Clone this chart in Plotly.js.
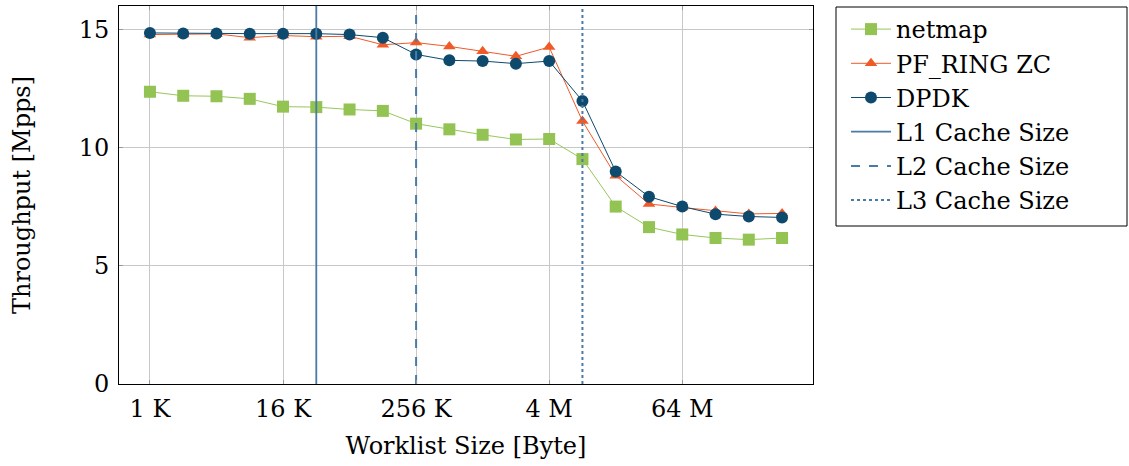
<!DOCTYPE html>
<html>
<head>
<meta charset="utf-8">
<script src="https://cdn.plot.ly/plotly-3.0.1.min.js"></script>
<style>html,body{margin:0;padding:0;background:#fff;}#chart{width:1129px;height:466px;}</style>
</head>
<body>
<div id="chart"></div>
<script>
// Worklist sizes in bytes (1 K ... 512 M)
const sizes = [1024, 2048, 4096, 8192, 16384, 32768, 65536, 131072, 262144, 524288,
  1048576, 2097152, 4194304, 8388608, 16777216, 33554432, 67108864, 134217728, 268435456, 536870912];
const netmap = [12.37, 12.20, 12.18, 12.07, 11.74, 11.72, 11.62, 11.56, 11.02, 10.78,
  10.55, 10.35, 10.37, 9.52, 7.51, 6.64, 6.33, 6.18, 6.11, 6.18];
const pfring = [14.79, 14.79, 14.82, 14.66, 14.75, 14.70, 14.72, 14.36, 14.45, 14.29,
  14.08, 13.87, 14.26, 11.13, 8.82, 7.62, 7.47, 7.32, 7.20, 7.22];
const dpdk = [14.86, 14.84, 14.84, 14.83, 14.83, 14.83, 14.79, 14.66, 13.95, 13.70,
  13.67, 13.56, 13.67, 11.98, 8.99, 7.93, 7.51, 7.19, 7.09, 7.05];
const cacheNames = ["L1 Cache Size", "L2 Cache Size", "L3 Cache Size"];
const cacheSizes = [32768, 262144, 8388608];
const tickVals = [1024, 16384, 262144, 4194304, 67108864];
const tickText = ["1 K", "16 K", "256 K", "4 M", "64 M"];
const yTicks = [0, 5, 10, 15];
const yMax = 16;

const font = "DejaVu Serif";
const fs = 24;
const cacheColor = "#4a7ba6";
const dashes = ["solid", "dash", "dot"];

const traces = [
  {x: sizes, y: netmap, name: "netmap", mode: "lines+markers", type: "scatter",
   line: {color: "#97c75a", width: 1}, marker: {symbol: "square", size: 12, color: "#92c353"}},
  {x: sizes, y: pfring, name: "PF_RING ZC", mode: "lines+markers", type: "scatter",
   line: {color: "#f05a28", width: 1}, marker: {symbol: "triangle-up", size: 11, color: "#f05a28"}},
  {x: sizes, y: dpdk, name: "DPDK", mode: "lines+markers", type: "scatter",
   line: {color: "#0d4a6e", width: 1}, marker: {symbol: "circle", size: 12, color: "#0d4a6e"}}
];
cacheNames.forEach((n, i) => {
  traces.push({x: [cacheSizes[i], cacheSizes[i]], y: [0, yMax], name: n, mode: "lines", type: "scatter",
    line: {color: cacheColor, width: i === 0 ? 1.8 : 2, dash: dashes[i]}, hoverinfo: "skip"});
});

// plot area geometry (px) used to place the legend frame in paper coords
const W = 1129, H = 466, mL = 119, mR = 316, mT = 6, mB = 82;
const pw = W - mL - mR, ph = H - mT - mB;
const px2x = p => (p - mL) / pw;
const px2y = p => (H - mB - p) / ph;

const step = Math.log10(2);
const layout = {
  width: W, height: H,
  margin: {l: mL, r: mR, t: mT, b: mB},
  paper_bgcolor: "#fff", plot_bgcolor: "#fff",
  font: {family: font, size: fs, color: "#000"},
  showlegend: true,
  legend: {x: px2x(846), y: px2y(7), xanchor: "left", yanchor: "top",
    bgcolor: "rgba(0,0,0,0)", borderwidth: 0, font: {family: font, size: fs, color: "#000"},
    tracegroupgap: 0, itemwidth: 40},
  shapes: [{type: "rect", xref: "paper", yref: "paper",
    x0: px2x(836), x1: px2x(1127), y0: px2y(226), y1: px2y(7),
    line: {color: "#000", width: 1}, fillcolor: "rgba(0,0,0,0)"}],
  xaxis: {
    type: "log",
    range: [Math.log10(sizes[0]) - 0.93 * step, Math.log10(sizes[sizes.length - 1]) + 0.93 * step],
    tickvals: tickVals, ticktext: tickText,
    showgrid: true, gridcolor: "#c8c8c8", gridwidth: 1,
    ticks: "inside", ticklen: 4, tickcolor: "#999",
    showline: true, linecolor: "#000", linewidth: 1, mirror: "ticks",
    zeroline: false, ticklabelstandoff: 3,
    tickfont: {family: font, size: fs},
    title: {text: "Worklist Size [Byte]", font: {family: font, size: fs}, standoff: 15}
  },
  yaxis: {
    range: [0, yMax],
    tickvals: yTicks,
    showgrid: true, gridcolor: "#c8c8c8", gridwidth: 1,
    ticks: "inside", ticklen: 4, tickcolor: "#999",
    showline: true, linecolor: "#000", linewidth: 1, mirror: "ticks",
    zeroline: false, ticklabelstandoff: 4,
    tickfont: {family: font, size: fs},
    title: {text: "Throughput [Mpps]", font: {family: font, size: fs}, standoff: 41}
  }
};
Plotly.newPlot("chart", traces, layout, {staticPlot: true, displayModeBar: false});
</script>
</body>
</html>
